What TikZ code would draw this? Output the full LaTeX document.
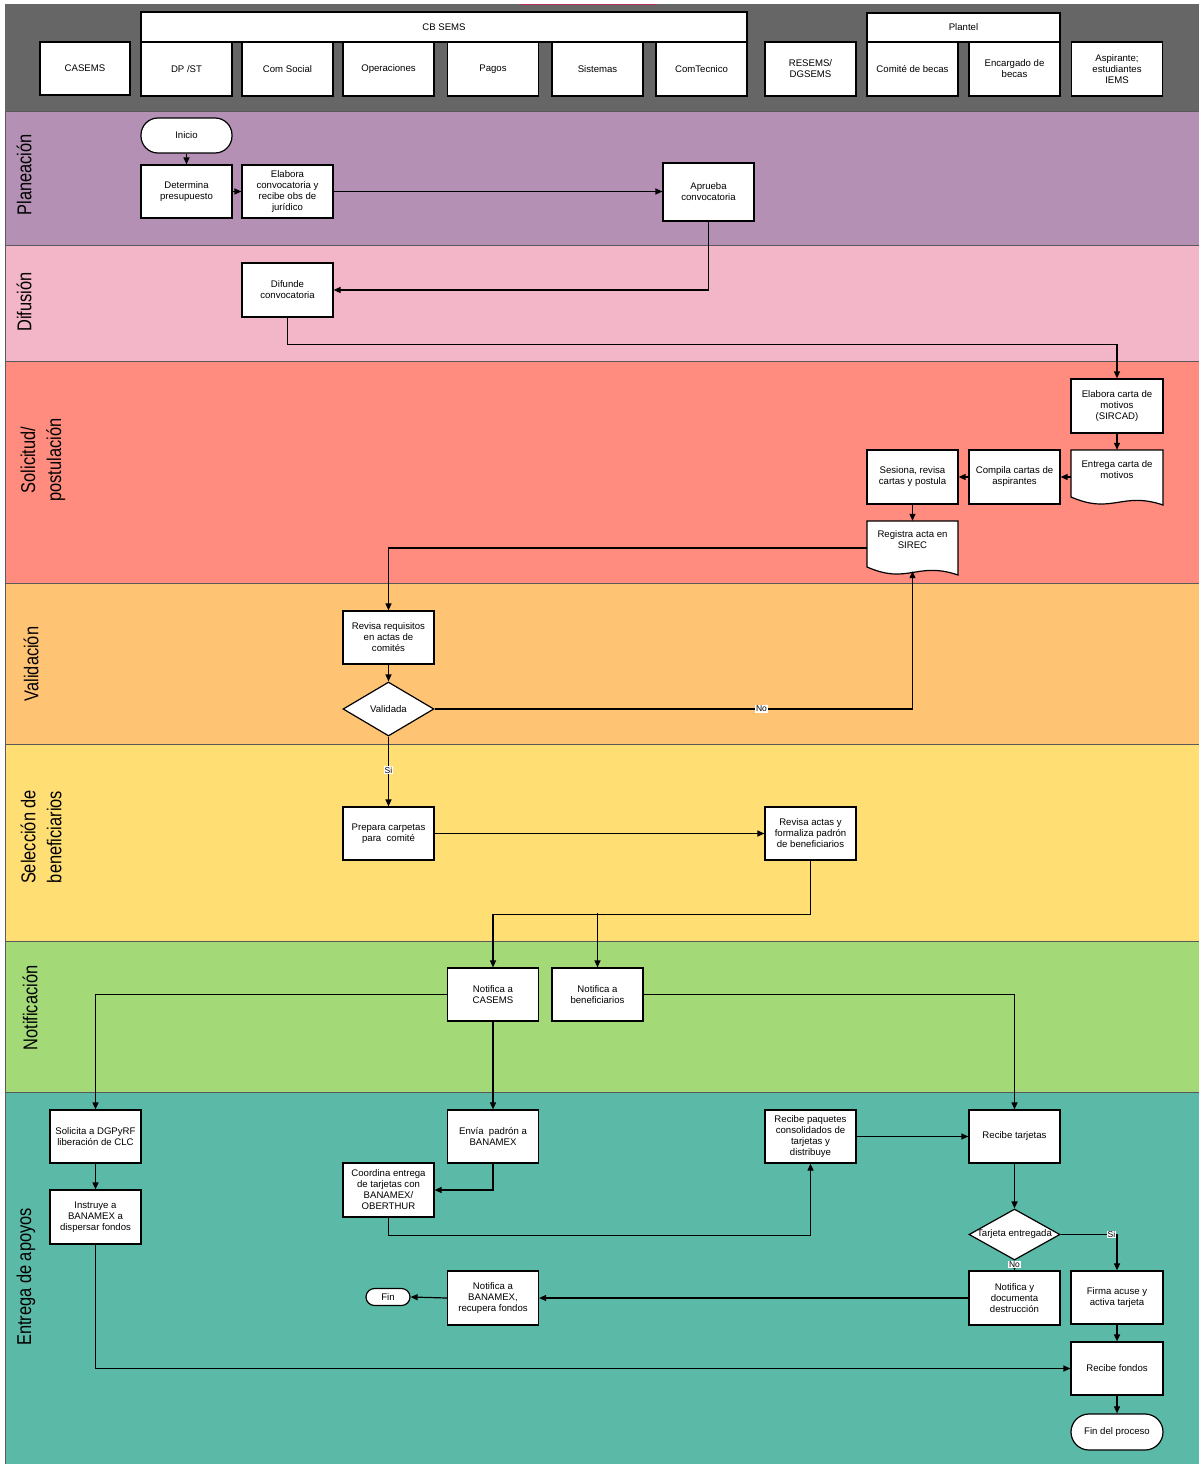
\documentclass[tikz,border=0pt]{standalone}
\usepackage{fontspec}
\setmainfont{Liberation Sans}
\newfontfamily\lanefont[FakeStretch=0.82]{Liberation Sans}
\usetikzlibrary{arrows.meta,shapes.geometric,calc}
\definecolor{hdr}{HTML}{666666}
\definecolor{plan}{HTML}{B390B4}
\definecolor{difu}{HTML}{F3B5C8}
\definecolor{soli}{HTML}{FF8C7E}
\definecolor{vali}{HTML}{FFC374}
\definecolor{sele}{HTML}{FFDE74}
\definecolor{noti}{HTML}{A4D977}
\definecolor{entr}{HTML}{5BB9A7}
\definecolor{topline}{HTML}{B5305F}
\begin{document}
\begin{tikzpicture}[x=1pt,y=-1pt,
  txt/.style={font=\fontsize{9.6}{11}\selectfont, align=center},
  box/.style={txt, draw=black, line width=1.2pt, fill=white, minimum width=91pt, minimum height=53pt, inner sep=1pt},
  hbox/.style={txt, draw=black, line width=1.2pt, fill=white, minimum width=91pt, minimum height=54pt, inner sep=1pt},
  term/.style={txt, draw=black, line width=1.2pt, fill=white, minimum width=91pt, minimum height=35pt, rounded corners=17pt, inner sep=1pt},
  dec/.style={diamond, draw=black, line width=1.2pt, fill=white, minimum width=91pt, minimum height=53pt, inner sep=0pt},
  plain/.style={txt, inner sep=0pt},
  lane/.style={draw=black!65, line width=0.8pt},
  lanelbl/.style={rotate=90, align=center, font=\lanefont\fontsize{20}{26}\selectfont},
  arr/.style={draw=black, line width=1.2pt, -{Triangle[length=7pt,width=6pt]}},
  lbl/.style={fill=white, inner sep=0.6pt, font=\fontsize{8.5}{9}\selectfont}
]
\useasboundingbox (0,0) rectangle (1199,1464);
% ---------- lanes ----------
\fill[white] (0,0) rectangle (1199,1464);
\fill[hdr] (5,4) rectangle (1205,111);
\draw[topline, line width=1pt] (520,4.5) -- (657,4.5);
\draw[black!80, line width=0.8pt] (5,111) -- (1205,111);
\draw[lane, fill=plan] (5.5,111) rectangle (1205,245);
\draw[lane, fill=difu] (5.5,245) rectangle (1205,361);
\draw[lane, fill=soli] (5.5,361) rectangle (1205,583);
\draw[lane, fill=vali] (5.5,583) rectangle (1205,744);
\draw[lane, fill=sele] (5.5,744) rectangle (1205,941);
\draw[lane, fill=noti] (5.5,941) rectangle (1205,1092);
\draw[lane, fill=entr] (5.5,1092) rectangle (1205,1470);

\node[lanelbl] (lplan) at (24,175) {Planeación};
\node[lanelbl] (ldifu) at (24,302) {Difusión};
\node[lanelbl] (lsoli) at (43,460) {Solicitud/\\postulación};
\node[lanelbl] (lvali) at (31,664) {Validación};
\node[lanelbl] (lsele) at (41,837) {Selección de\\beneficiarios};
\node[lanelbl] (lnoti) at (30,1008) {Notificación};
\node[lanelbl] (lentr) at (26,1277) {Entrega de apoyos};

% ---------- header ----------
\node[hbox, minimum width=606pt, minimum height=30pt] (cb) at (444,27) {CB SEMS};
\node[hbox, minimum width=193pt, minimum height=29pt] (plantel) at (963.5,27.5) {Plantel};
\node[hbox, minimum width=90pt, minimum height=53pt] (hcasems) at (85,68.5) {CASEMS};
\node[hbox] (hdp) at (186.5,69) {DP /ST};
\node[hbox] (hcom) at (287.5,69) {Com Social};
\node[hbox] (hops) at (388.5,69) {Operaciones};
\node[hbox] (hpag) at (493,69) {Pagos};
\node[hbox] (hsis) at (597.5,69) {Sistemas};
\node[hbox] (hct) at (701.5,69) {ComTecnico};
\node[hbox] (hres) at (810.5,69) {RESEMS/\\DGSEMS};
\node[hbox] (hcomi) at (912.5,69) {Comité de becas};
\node[hbox] (henc) at (1014.5,69) {Encargado de\\becas};
\node[hbox] (hasp) at (1117,69) {Aspirante;\\estudiantes\\IEMS};

% ---------- document shapes (outlines) ----------
\draw[line width=1.2pt, fill=white] (1071,450) -- (1163,450) -- (1163,505)
  .. controls (1121.6,491) and (1112.4,515) .. (1071,497) -- cycle;
\draw[line width=1.2pt, fill=white] (867,521) -- (958,521) -- (958,575)
  .. controls (917,561) and (908,585) .. (867,567) -- cycle;

% ---------- process nodes ----------
\node[term] (ini) at (186.5,135.5) {Inicio};
\node[box] (det) at (186.5,191.5) {Determina\\presupuesto};
\node[box] (ela) at (287.5,191.5) {Elabora\\convocatoria y\\recibe obs de\\jurídico};
\node[box, minimum height=58pt] (apr) at (708.5,192) {Aprueba\\convocatoria};
\node[box, minimum height=54pt] (dif) at (287.5,290) {Difunde\\convocatoria};
\node[box, minimum width=92pt, minimum height=54pt] (carta) at (1117,406) {Elabora carta de\\motivos\\(SIRCAD)};
\node[plain, minimum width=92pt, minimum height=55pt] (entrega) at (1117,477.5) {Entrega carta de\\motivos\\[5pt]};
\node[box, minimum height=54pt] (compila) at (1014.5,477) {Compila cartas de\\aspirantes};
\node[box, minimum height=54pt] (sesiona) at (912.5,477) {Sesiona, revisa\\cartas y postula};
\node[plain, minimum width=91pt, minimum height=54pt] (registra) at (912.5,548) {Registra acta en\\SIREC\\[5pt]};
\node[box] (revreq) at (388.5,637.5) {Revisa requisitos\\en actas de\\comités};
\node[dec, minimum height=54pt] (valid) at (388.5,709) {};
\node[plain] at (valid) {Validada};
\node[box] (prep) at (388.5,833.5) {Prepara carpetas\\para\ \ comité};
\node[box] (revact) at (810.5,833.5) {Revisa actas y\\formaliza padrón\\de beneficiarios};
\node[box] (ncas) at (493,994.5) {Notifica a\\CASEMS};
\node[box] (nben) at (597.5,994.5) {Notifica a\\beneficiarios};
\node[box] (sol) at (95.5,1136.5) {Solicita a DGPyRF\\liberación de CLC};
\node[box, minimum height=54pt] (ins) at (95.5,1217) {Instruye a\\BANAMEX a\\dispersar fondos};
\node[box] (env) at (493,1136.5) {Envía\ \ padrón a\\BANAMEX};
\node[box, minimum height=54pt] (coord) at (388.5,1190) {Coordina entrega\\de tarjetas con\\BANAMEX/\\OBERTHUR};
\node[box] (rpaq) at (810.5,1136.5) {Recibe paquetes\\consolidados de\\tarjetas y\\distribuye};
\node[box] (rtar) at (1014.5,1136.5) {Recibe tarjetas};
\node[dec, minimum height=51pt] (tent) at (1014.5,1234.5) {};
\node[plain] at (tent) {Tarjeta entregada};
\node[box, minimum height=54pt] (notdes) at (1014.5,1298) {Notifica y\\documenta\\destrucción};
\node[box, minimum width=92pt] (firma) at (1117,1297.5) {Firma acuse y\\activa tarjeta};
\node[box, minimum width=92pt] (rfon) at (1117,1368.5) {Recibe fondos};
\node[term, minimum width=92pt, minimum height=36pt, rounded corners=18pt] (finp) at (1117,1432) {Fin del proceso};
\node[box, minimum height=54pt] (nban) at (493,1298) {Notifica a\\BANAMEX,\\recupera fondos};
\node[term, minimum width=44pt, minimum height=17pt, rounded corners=8.5pt] (fin) at (388,1297) {Fin};

% ---------- connectors ----------
\draw[arr] (ini) -- (det);
\draw[arr] (det) -- (ela);
\draw[arr] (ela) -- (ela -| apr.west);
\draw[arr] (apr.south) |- (dif.east);
\draw[arr] (dif.south) -- ++(0,27) -| (carta.north);
\draw[arr] (carta.south) -- (carta.south |- entrega.north);
\draw[arr] (compila.east -| entrega.west) -- (compila.east);
\draw[arr] (compila.west) -- (sesiona.east);
\draw[arr] (sesiona.south) -- (registra.north);
\draw[arr] (registra.west) -| (revreq.north);
\draw[arr] (revreq.south) -- (valid.north);
\draw[arr] (valid.east) -- node[lbl, pos=0.684] {No} (valid.east -| registra.south) -- ([yshift=4pt]registra.south);
\draw[arr] (valid.south) -- node[lbl, pos=0.48] {Si} (prep.north);
\draw[arr] (prep.east) -- (revact.west);
\draw[arr] (revact.south) -- ++(0,54) -| (ncas.north);
\draw[arr] ([yshift=54pt]nben.north) -- (nben.north);
\draw[arr] (ncas.west) -| (sol.north);
\draw[arr] (ncas.south) -- (env.north);
\draw[arr] (nben.east) -| (rtar.north);
\draw[arr] (sol.south) -- (ins.north);
\draw[arr] (ins.south) |- (rfon.west);
\draw[arr] (env.south) |- (coord.east);
\draw[arr] (coord.south) -- ++(0,18) -| (rpaq.south);
\draw[arr] (rpaq.east) -- (rtar.west);
\draw[arr, line width=1.6pt] (rtar.south) -- (tent.north);
\draw[arr] (tent.east) -| node[lbl, pos=0.45] {Si} (firma.north);
\draw[arr] (tent.south) -- node[lbl, pos=0.4] {No} (notdes.north);
\draw[arr] (notdes.west) -- (nban.east);
\draw[arr] (nban.west) -- (fin.east);
\draw[arr, line width=1.6pt] (firma.south) -- (rfon.north);
\draw[arr] (rfon.south) -- (finp.north);
\end{tikzpicture}
\end{document}
